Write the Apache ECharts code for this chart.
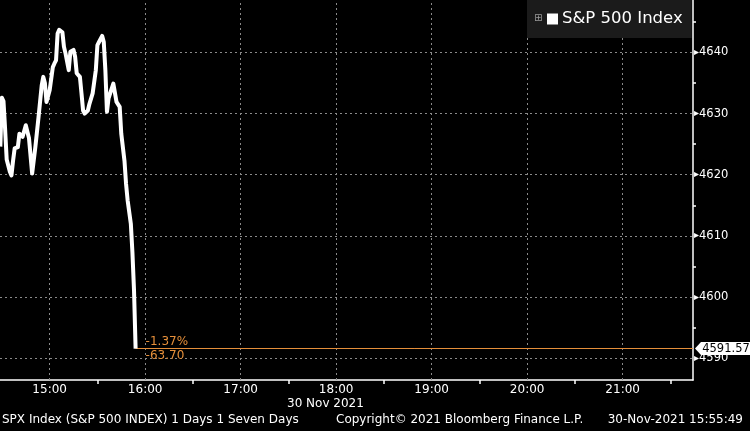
<!DOCTYPE html>
<html>
<head>
<meta charset="utf-8">
<script src="https://cdn.jsdelivr.net/npm/echarts@6/dist/echarts.min.js"></script>
<style>
html,body{margin:0;padding:0;background:#000;}
#chart{width:750px;height:431px;}
</style>
</head>
<body>
<div id="chart"></div>
<script>
// ---- data ----
const seriesName = 'S&P 500 Index';
const times = ['14:29','14:30','14:31','14:32','14:33','14:35','14:36','14:37','14:38','14:40',
  '14:41','14:43','14:45','14:47','14:49','14:51','14:53','14:55','14:56','14:57',
  '14:58','15:00','15:02','15:03','15:04','15:05','15:06','15:08','15:09','15:10',
  '15:12','15:13','15:15','15:16','15:17','15:19','15:20','15:21','15:22','15:24',
  '15:25','15:27','15:29','15:30','15:31','15:33','15:34','15:35','15:36','15:37',
  '15:38','15:40','15:41','15:42','15:44','15:45','15:47','15:48','15:49','15:50',
  '15:51','15:52','15:53','15:54'];
const values = [4624.6,4632.6,4632.0,4627.5,4622.5,4620.5,4619.9,4622.3,4624.3,4624.5,
  4626.7,4626.2,4628.1,4626.0,4620.2,4624.5,4629.4,4634.6,4636.0,4635.0,
  4631.9,4633.8,4637.6,4638.2,4638.7,4643.1,4643.7,4643.3,4640.9,4639.8,
  4637.1,4640.1,4640.4,4639.3,4636.6,4636.0,4633.3,4630.5,4630.0,4630.5,
  4631.6,4633.3,4637.1,4641.2,4641.7,4642.7,4641.7,4637.1,4630.3,4632.5,
  4633.3,4634.9,4634.6,4631.9,4631.1,4626.7,4622.3,4618.5,4615.8,4615.5,
  4612.0,4607.3,4601.1,4591.57];
const xTickLabels = ['15:00','16:00','17:00','18:00','19:00','20:00','21:00'];
const xMinorTicks = ['15:30','16:30','17:30','18:30','19:30','20:30','21:30'];
const yTicks = [4590,4600,4610,4620,4630,4640];
const yMinorTicks = [4595,4605,4615,4625,4635,4645];
const lastValue = 4591.57;
const changePct = '-1.37%';
const changeAbs = '-63.70';
const dateLabel = '30 Nov 2021';
const footerLeft = 'SPX Index (S&P 500 INDEX) 1 Days 1 Seven Days';
const footerMid = 'Copyright\u00a9 2021 Bloomberg Finance L.P.';
const footerRight = '30-Nov-2021 15:55:49';

// ---- helpers ----
const toMin = s => { const p = s.split(':'); return (+p[0]) * 60 + (+p[1]); };
const fmtMin = m => { const h = Math.floor(m / 60), mm = Math.round(m % 60); return h + ':' + (mm < 10 ? '0' : '') + mm; };
const xMin = 868.8, xMax = 1304.2;
const yMin = 4586.44, yMax = 4648.57;
const lineData = times.map((t, i) => [toMin(t), values[i]]);
const lastX = toMin(times[times.length - 1]);
const FONT = 'DejaVu Sans';
const orange = '#e58f3a';

const chart = echarts.init(document.getElementById('chart'), null, {renderer: 'canvas'});
chart.setOption({
  backgroundColor: '#000',
  animation: false,
  grid: {left: 0, right: 57, top: 0, bottom: 51},
  legend: {
    data: [seriesName],
    left: 527, top: 0,
    padding: [9, 9, 9, 20],
    backgroundColor: '#1b1b1b',
    icon: 'rect', itemWidth: 11, itemHeight: 11, itemGap: 4,
    textStyle: {color: '#fff', fontFamily: FONT, fontSize: 16.5, lineHeight: 20, padding: [0, 0, 0, -1]}
  },
  xAxis: {
    type: 'value', min: xMin, max: xMax,
    axisLine: {show: true, lineStyle: {color: '#fff', width: 1.5}},
    axisTick: {show: true, customValues: xMinorTicks.map(toMin), length: 4, lineStyle: {color: '#fff', width: 1.5}},
    axisLabel: {customValues: xTickLabels.map(toMin), formatter: v => fmtMin(v), color: '#fff', fontFamily: FONT, fontSize: 12, margin: 4},
    splitLine: {show: false}
  },
  yAxis: {
    type: 'value', position: 'right', min: yMin, max: yMax, scale: true,
    axisLine: {show: true, lineStyle: {color: '#fff', width: 1.5}},
    axisTick: {show: true, customValues: yMinorTicks, length: 3, lineStyle: {color: '#fff', width: 1.5}},
    axisLabel: {
      customValues: yTicks, margin: 1,
      formatter: v => '{t|\u25B8}{v|' + v + '}',
      rich: {
        t: {color: '#fff', fontFamily: FONT, fontSize: 10},
        v: {color: '#fff', fontFamily: FONT, fontSize: 11.5}
      }
    },
    splitLine: {show: false}
  },
  graphic: [
    {type: 'text', left: 534, top: 13, z: 100, zlevel: 1, style: {text: '\u229E', fill: '#9a9a9a', font: '10px ' + FONT}},
    {type: 'text', left: 287, top: 398, style: {text: dateLabel, fill: '#fff', font: '12px ' + FONT}},
    {type: 'text', left: 2, top: 414, style: {text: footerLeft, fill: '#fff', font: '12px ' + FONT}},
    {type: 'text', left: 336, top: 414, style: {text: footerMid, fill: '#fff', font: '12px ' + FONT}},
    {type: 'text', right: 7, top: 414, style: {text: footerRight, fill: '#fff', font: '12px ' + FONT}}
  ],
  series: [
    {
      type: 'line', data: [], z: 1, silent: true, clip: false,
      markLine: {
        silent: true, symbol: 'none', z: 1,
        label: {show: false},
        lineStyle: {color: '#8a8a8a', type: [2, 3], width: 1},
        emphasis: {disabled: true},
        data: [].concat(yTicks.map(v => ({yAxis: v})), xTickLabels.map(t => ({xAxis: toMin(t)})))
      },
      markPoint: {
        silent: true,
        symbol: 'path://M0,6.5 L6,0 L56,0 L56,13 L6,13 Z',
        symbolSize: [56, 13], symbolKeepAspect: false, symbolOffset: [30, 0],
        itemStyle: {color: '#fff'},
        label: {show: true, position: 'inside', offset: [3, 0], color: '#000', fontFamily: FONT, fontSize: 11.5, formatter: () => lastValue.toFixed(2)},
        data: [{coord: [xMax, lastValue]}]
      }
    },
    {
      name: seriesName, type: 'line', data: lineData, z: 3,
      showSymbol: false, symbol: 'none',
      lineStyle: {color: '#fff', width: 4, join: 'round'},
      itemStyle: {color: '#fff'},
      markLine: {
        silent: true, symbol: 'none', z: 2,
        lineStyle: {color: orange, type: 'solid', width: 1},
        emphasis: {disabled: true},
        data: [
          [{coord: [lastX, lastValue], label: {show: true, position: 'insideStartTop', formatter: changePct, color: orange, fontFamily: FONT, fontSize: 12, distance: [10, 1]}},
           {coord: [xMax, lastValue]}],
          [{coord: [lastX, lastValue], label: {show: true, position: 'insideStartBottom', formatter: changeAbs, color: orange, fontFamily: FONT, fontSize: 12, distance: [10, 1]}},
           {coord: [xMax, lastValue]}]
        ]
      }
    }
  ]
});
</script>
</body>
</html>
